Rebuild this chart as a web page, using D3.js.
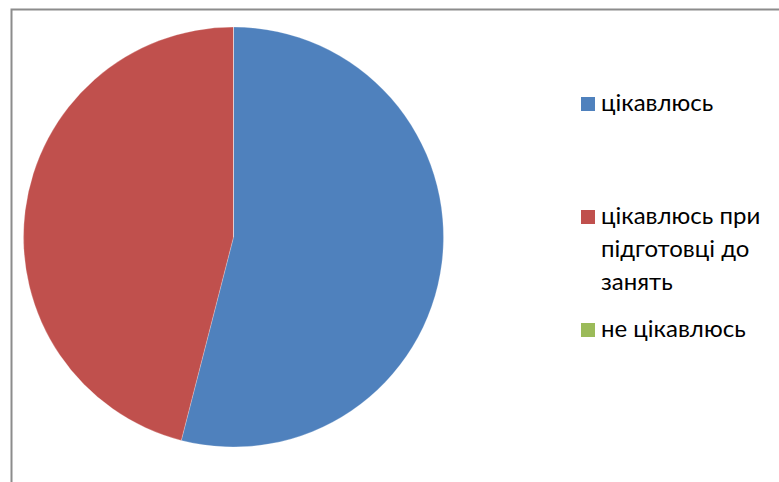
<!DOCTYPE html>
<html>
<head>
<meta charset="utf-8">
<script src="https://cdn.jsdelivr.net/npm/d3@7"></script>
<style>
  html, body { margin: 0; padding: 0; background: #fff; }
  svg { display: block; }
</style>
</head>
<body>
<svg id="chart" width="779" height="482"></svg>
<script>
// Categories and their shares (per cent of respondents)
const categories = ["цікавлюсь", "цікавлюсь при підготовці до занять", "не цікавлюсь"];
const legendLines = [["цікавлюсь"], ["цікавлюсь при", "підготовці до", "занять"], ["не цікавлюсь"]];
const values = [54, 46, 0];
const colors = ["#4f81bd", "#c0504d", "#9bbb59"];

const svg = d3.select("#chart");

// Chart frame (runs off the right and bottom edges)
svg.append("rect")
  .attr("x", 11.5).attr("y", 9.5)
  .attr("width", 800).attr("height", 500)
  .attr("fill", "#fff")
  .attr("stroke", "#8c8c8c")
  .attr("stroke-width", 2);

const cx = 233.5, cy = 237, r = 210;

const pie = d3.pie().value(d => d).sort(null);
const arc = d3.arc().innerRadius(0).outerRadius(r);

const g = svg.append("g").attr("transform", `translate(${cx},${cy})`);
g.selectAll("path")
  .data(pie(values))
  .join("path")
  .attr("d", arc)
  .attr("fill", (d, i) => colors[i])
  .attr("stroke", "#fff")
  .attr("stroke-width", 0.4)
  .attr("stroke-opacity", 0.6);

// Legend
const legendX = 581;
const baselines = [111, 224, 337];
const lineGap = 33;
const font = "Lato, 'Open Sans', sans-serif";

const leg = svg.append("g");
categories.forEach((c, i) => {
  const item = leg.append("g");
  item.append("rect")
    .attr("x", legendX).attr("y", baselines[i] - 14)
    .attr("width", 14).attr("height", 14)
    .attr("fill", colors[i]);
  const t = item.append("text")
    .attr("x", legendX + 20)
    .attr("y", baselines[i])
    .attr("font-family", font)
    .attr("font-size", 24)
    .attr("fill", "#000");
  legendLines[i].forEach((ln, j) => {
    t.append("tspan")
      .attr("x", legendX + 20)
      .attr("dy", j === 0 ? 0 : lineGap)
      .text(ln);
  });
});
</script>
</body>
</html>
